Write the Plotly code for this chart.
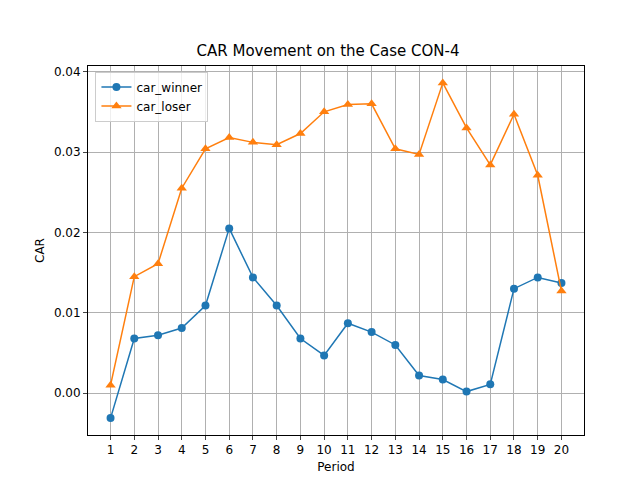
import plotly.graph_objects as go

periods = list(range(1, 21))
car_winner = [-0.0031, 0.0068, 0.0072, 0.0081, 0.0109, 0.0205, 0.0144, 0.0109, 0.0068, 0.0047,
              0.0087, 0.0076, 0.0060, 0.0022, 0.0017, 0.0002, 0.0011, 0.0130, 0.0144, 0.0137]
car_loser = [0.0010, 0.0145, 0.0161, 0.0255, 0.0304, 0.0318, 0.0312, 0.0309, 0.0323, 0.0350,
             0.0359, 0.0360, 0.0304, 0.0297, 0.0386, 0.0330, 0.0284, 0.0347, 0.0271, 0.0127]

fig = go.Figure()
fig.add_trace(go.Scatter(x=periods, y=car_winner, mode="lines+markers", name="car_winner",
                         line=dict(color="#1f77b4", width=1.5), marker=dict(symbol="circle", size=8)))
fig.add_trace(go.Scatter(x=periods, y=car_loser, mode="lines+markers", name="car_loser",
                         line=dict(color="#ff7f0e", width=1.5), marker=dict(symbol="triangle-up", size=9)))

axis = dict(showline=True, linecolor="black", mirror=True, ticks="outside", ticklen=4,
            showgrid=True, gridcolor="#b0b0b0", zeroline=False, tickfont=dict(size=12),
            automargin=False)
fig.update_xaxes(axis, range=[0.05, 20.95], tickvals=periods,
                 title=dict(text="Period", font=dict(size=12), standoff=6))
fig.update_yaxes(axis, range=[-0.0052, 0.0407], tickvals=[0, 0.01, 0.02, 0.03, 0.04],
                 tickformat=".2f", title=dict(text="CAR", font=dict(size=12), standoff=6))
fig.update_layout(
    width=640, height=480, plot_bgcolor="white", paper_bgcolor="white",
    font=dict(family="DejaVu Sans", color="black"),
    title=dict(text="CAR Movement on the Case CON-4", x=0.5, xanchor="center",
               y=0.91, yanchor="middle", font=dict(size=15)),
    margin=dict(l=80, r=64, t=58, b=53),
    legend=dict(x=0.015, y=0.985, xanchor="left", yanchor="top", bordercolor="#cccccc", borderwidth=1,
                bgcolor="rgba(255,255,255,0.8)", font=dict(size=12)),
)
fig.write_html("out.html")
